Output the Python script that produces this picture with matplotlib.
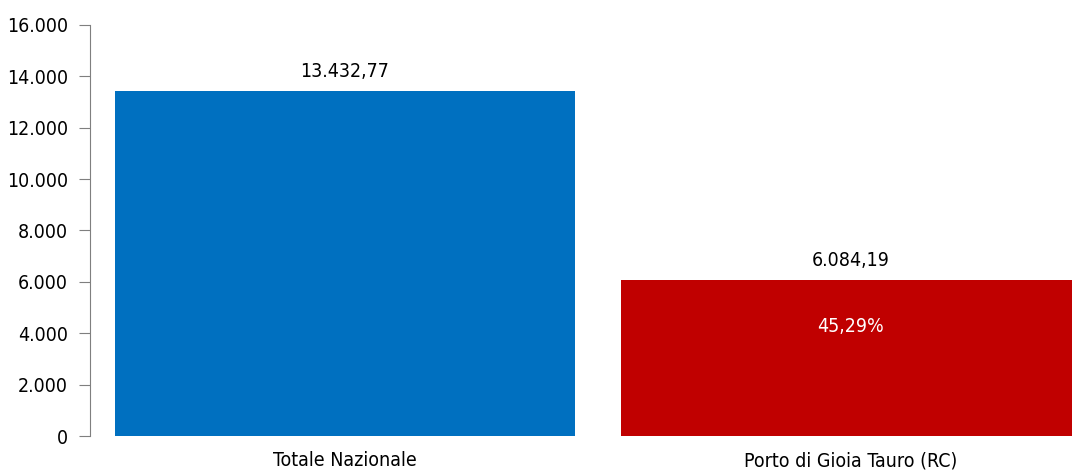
import matplotlib.pyplot as plt
from matplotlib.ticker import FuncFormatter

categories = ['Totale Nazionale', 'Porto di Gioia Tauro (RC)']
values = [13432.77, 6084.19]
colors = ['#0070C0', '#C00000']

# condensed face, closest thing to the narrow original font
plt.rcParams['font.family'] = ['DejaVu Sans']
plt.rcParams['font.stretch'] = 'condensed'


def itNum(v, decimals=0):
    """Format a number the Italian way: dot thousands, comma decimals"""
    s = f'{v:,.{decimals}f}'
    return s.replace(',', 'X').replace('.', ',').replace('X', '.')


fig = plt.figure(figsize=(10.72, 4.73), dpi=100)
ax = fig.add_axes([90 / 1072, 37 / 473, 1 - 90 / 1072, 411 / 473])

x = list(range(len(categories)))
bars = ax.bar(x, values, width=0.909, color=colors)

ax.set_xlim(-0.504, 1.437)
ax.set_ylim(0, 16000)
ax.set_yticks(range(0, 16001, 2000))
ax.yaxis.set_major_formatter(FuncFormatter(lambda v, p: itNum(v)))
ax.set_xticks(x)
ax.set_xticklabels(categories)

for s in ['top', 'right', 'bottom']:
    ax.spines[s].set_visible(False)
ax.spines['left'].set_color('#7f7f7f')
ax.tick_params(axis='y', length=8, color='#7f7f7f', labelsize=14, pad=8)
ax.tick_params(axis='x', length=0, labelsize=14, pad=11)

# value labels above the bars
for b, v in zip(bars, values):
    ax.annotate(itNum(v, 2), (b.get_x() + b.get_width() / 2, v),
                xytext=(0, 7), textcoords='offset points',
                ha='center', va='bottom', fontsize=14)

# share of the national total inside the red bar
share = values[1] / values[0] * 100
ax.text(x[1], 4250, itNum(share, 2) + '%', ha='center', va='center',
        color='white', fontsize=14)

fig.savefig('out.png', dpi=100)
